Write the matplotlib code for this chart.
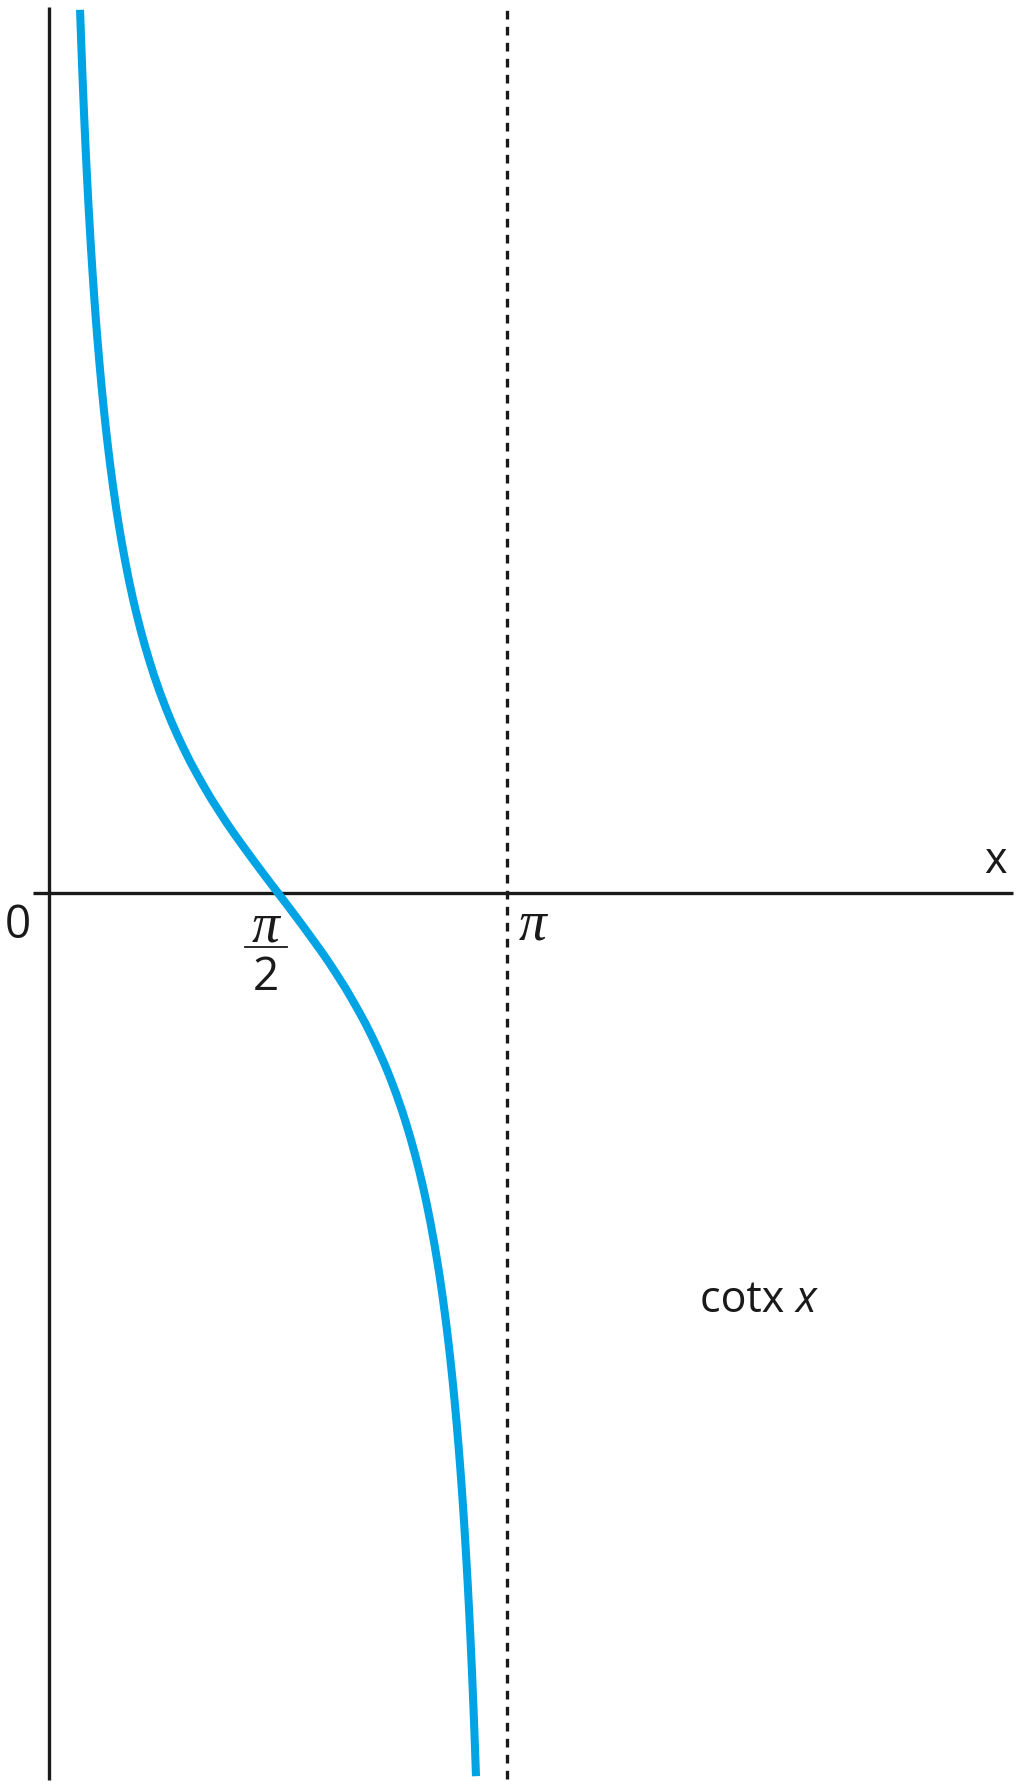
import matplotlib
matplotlib.use("Agg")
import matplotlib.pyplot as plt

# cot x curve (x in radians)
curve_x = [0.213, 0.22, 0.23, 0.24, 0.25, 0.26, 0.27, 0.28, 0.29, 0.30, 0.31, 0.32,
           0.33, 0.345, 0.36, 0.375, 0.39, 0.405, 0.42, 0.44, 0.46, 0.48, 0.50,
           0.525, 0.55, 0.575, 0.60, 0.63, 0.66, 0.69, 0.72, 0.76, 0.80, 0.84,
           0.88, 0.925, 0.97, 1.015, 1.06, 1.11, 1.16, 1.215, 1.27, 1.335, 1.40,
           1.485, 1.5708,
           1.6566, 1.7416, 1.8066, 1.8716, 1.9266, 1.9816, 2.0316, 2.0816, 2.1266,
           2.1716, 2.2166, 2.2616, 2.3016, 2.3416, 2.3816, 2.4216, 2.4516, 2.4816,
           2.5116, 2.5416, 2.5666, 2.5916, 2.6166, 2.6416, 2.6616, 2.6816, 2.7016,
           2.7216, 2.7366, 2.7516, 2.7666, 2.7816, 2.7966, 2.8116, 2.8216, 2.8316,
           2.8416, 2.8516, 2.8616, 2.8716, 2.8816, 2.8916, 2.9016, 2.9116, 2.9216,
           2.9286]
curve_y = [4.624, 4.472, 4.271, 4.086, 3.916, 3.759, 3.613, 3.478, 3.351, 3.233, 3.122, 3.018,
           2.920, 2.783, 2.657, 2.541, 2.433, 2.333, 2.239, 2.124, 2.018, 1.921, 1.831,
           1.727, 1.631, 1.543, 1.462, 1.372, 1.289, 1.212, 1.140, 1.052, 0.971, 0.896,
           0.827, 0.754, 0.685, 0.622, 0.561, 0.496, 0.436, 0.371, 0.310, 0.241, 0.173,
           0.086, 0.0,
           -0.086, -0.173, -0.241, -0.310, -0.371, -0.436, -0.496, -0.561, -0.622,
           -0.685, -0.754, -0.827, -0.896, -0.971, -1.052, -1.140, -1.212, -1.289,
           -1.372, -1.462, -1.543, -1.631, -1.727, -1.831, -1.921, -2.018, -2.124,
           -2.239, -2.333, -2.433, -2.541, -2.657, -2.783, -2.920, -3.018, -3.122,
           -3.233, -3.351, -3.478, -3.613, -3.759, -3.916, -4.086, -4.271, -4.472,
           -4.624]

asymptote_x = 3.1416
tick_labels = ["0", "π", "2"]
axis_label = "x"
curve_label = "cotx"
curve_label_var = "x"

W, H = 1024, 1790
fig = plt.figure(figsize=(W / 100, H / 100), dpi=100)
ax = fig.add_axes([0, 0, 1, 1])
sx = 145.8   # px per unit x
sy = 191.0   # px per unit y
x0_px, y0_px = 49, 894
ax.set_xlim(-x0_px / sx, (W - x0_px) / sx)
ax.set_ylim(-(H - y0_px) / sy, y0_px / sy)
ax.axis("off")

def px(x):
    return (x - x0_px) / sx

def py(y):
    return (y0_px - y) / sy

ink = "#1a1a1a"
blue = "#00a3e4"

# axes
ax.plot([0, 0], [py(1781), py(8)], color=ink, lw=2.4, solid_capstyle="butt")
ax.plot([px(33), px(1013)], [0, 0], color=ink, lw=2.4, solid_capstyle="butt")
# asymptote
ax.plot([asymptote_x, asymptote_x], [py(1780), py(8)], color=ink, lw=2.4,
        linestyle=(0, (2.6, 2.2)))

# curve
ax.plot(curve_x, curve_y, color=blue, lw=5.8, solid_capstyle="butt",
        solid_joinstyle="round", zorder=3)

sans = ["Open Sans", "DejaVu Sans"]
serif = ["Liberation Serif", "DejaVu Serif"]

ax.text(px(18), py(938), tick_labels[0], fontsize=33, family=sans,
        ha="center", va="baseline", color=ink)
ax.text(px(533), py(939), tick_labels[1], fontsize=40, family=serif,
        style="italic", ha="center", va="baseline", color=ink)
# pi/2
ax.text(px(266), py(941), tick_labels[1], fontsize=40, family=serif,
        style="italic", ha="center", va="baseline", color=ink)
ax.plot([px(245), px(287)], [py(948), py(948)], color=ink, lw=1.3)
ax.text(px(266), py(990), tick_labels[2], fontsize=33, family=sans,
        ha="center", va="baseline", color=ink)

ax.text(px(995), py(873), axis_label, fontsize=31, family=sans,
        ha="center", va="baseline", color=ink)

t = ax.text(px(700), py(1312), curve_label + " ", fontsize=31, family=sans,
            ha="left", va="baseline", color=ink)
fig.canvas.draw()
bb = t.get_window_extent()
xr = ax.transData.inverted().transform((bb.x1, 0))[0]
ax.text(xr, py(1312), curve_label_var, fontsize=31, family=sans, style="italic",
        ha="left", va="baseline", color=ink)

fig.savefig("out.png", dpi=100, facecolor="white")
